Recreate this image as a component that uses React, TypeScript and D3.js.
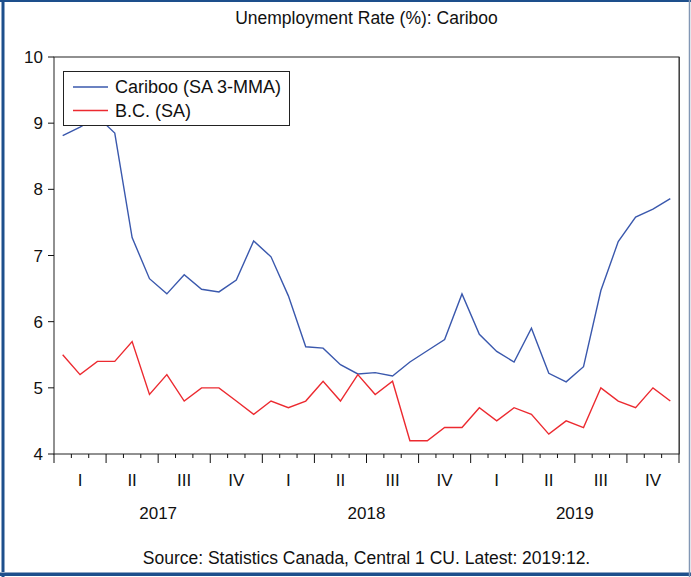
import React from "react";
import * as d3 from "d3";

const months: string[] = d3.range(36).map((i) => `${2017 + Math.floor(i / 12)}-${String((i % 12) + 1).padStart(2, "0")}`);
const cariboo: number[] = [
  8.81, 8.94, 9.1, 8.85, 7.27, 6.65, 6.42, 6.71, 6.49, 6.45, 6.63, 7.22,
  6.98, 6.39, 5.62, 5.6, 5.35, 5.21, 5.23, 5.18, 5.39, 5.56, 5.73, 6.42,
  5.81, 5.55, 5.39, 5.9, 5.22, 5.09, 5.32, 6.47, 7.21, 7.58, 7.7, 7.86,
];
const bc: number[] = [
  5.5, 5.2, 5.4, 5.4, 5.7, 4.9, 5.2, 4.8, 5.0, 5.0, 4.8, 4.6,
  4.8, 4.7, 4.8, 5.1, 4.8, 5.2, 4.9, 5.1, 4.2, 4.2, 4.4, 4.4,
  4.7, 4.5, 4.7, 4.6, 4.3, 4.5, 4.4, 5.0, 4.8, 4.7, 5.0, 4.8,
];
const yTicks: number[] = [4, 5, 6, 7, 8, 9, 10];
const quarterLabels: string[] = ["I", "II", "III", "IV"];
const years: string[] = ["2017", "2018", "2019"];
const seriesNames: string[] = ["Cariboo (SA 3-MMA)", "B.C. (SA)"];
const seriesColors: string[] = ["#3a58ad", "#ec2a30"];
const title = "Unemployment Rate (%): Cariboo";
const source = "Source: Statistics Canada, Central 1 CU. Latest: 2019:12.";

const W = 691;
const H = 577;
const L = 54, R = 679, T = 57, B = 454;
const FONT = "'Liberation Sans', Arial, sans-serif";

export default function App() {
  const x = d3.scaleLinear().domain([0, months.length]).range([L, R]);
  const y = d3.scaleLinear().domain([4, 10]).range([B, T]);
  const line = d3
    .line<number>()
    .x((_, i) => x(i + 0.5))
    .y((d) => y(d));
  const series = [cariboo, bc];
  const cx = (L + R) / 2;
  const nQuarters = months.length / 3;

  return (
    <svg
      width={W}
      height={H}
      style={{ position: "absolute", left: 0, top: 0, background: "#fff" }}
      fontFamily={FONT}
    >
      <rect x={0} y={0} width={W} height={H} fill="#fff" />
      {/* outer frame */}
      <line x1={0} x2={W} y1={1} y2={1} stroke="#1d4f8c" strokeWidth={2} />
      <line x1={3} x2={3} y1={0} y2={H} stroke="#1d4f8c" strokeWidth={3} />
      <line x1={0} x2={W} y1={574.5} y2={574.5} stroke="#1d4f8c" strokeWidth={3} />
      <line x1={0} x2={W} y1={572.5} y2={572.5} stroke="#8fa6c4" strokeWidth={1} />
      <line x1={689.5} x2={689.5} y1={0} y2={H} stroke="#8297b5" strokeWidth={1.5} />

      <text x={cx} y={24} textAnchor="middle" fontSize={17.5} fill="#111">
        {title}
      </text>

      {/* plot frame */}
      <rect x={L} y={T} width={R - L} height={B - T} fill="none" stroke="#222" strokeWidth={1} />
      <line x1={R + 0.5} x2={R + 0.5} y1={T} y2={B} stroke="#444" strokeWidth={1} />

      {/* y axis */}
      {yTicks.map((t) => (
        <g key={t}>
          <line x1={L - 6} x2={L} y1={y(t)} y2={y(t)} stroke="#111" />
          <text x={L - 11} y={y(t)} dy="0.36em" textAnchor="end" fontSize={17} fill="#111">
            {t}
          </text>
        </g>
      ))}

      {/* x axis ticks */}
      {d3.range(months.length + 1).map((i) => (
        <line
          key={i}
          x1={x(i)}
          x2={x(i)}
          y1={B}
          y2={i % 3 === 0 ? B + 9 : B + 4}
          stroke="#111"
        />
      ))}
      {d3.range(nQuarters).map((q) => (
        <text key={q} x={x(q * 3 + 1.5)} y={486} textAnchor="middle" fontSize={17} fill="#111">
          {quarterLabels[q % 4]}
        </text>
      ))}
      {years.map((yr, k) => (
        <text key={yr} x={x(k * 12 + 6)} y={519} textAnchor="middle" fontSize={17} fill="#111">
          {yr}
        </text>
      ))}

      {/* series */}
      {series.map((s, k) => (
        <path key={k} d={line(s) || ""} fill="none" stroke={seriesColors[k]} strokeWidth={1.4} />
      ))}

      {/* legend */}
      <rect x={63.5} y={71.5} width={226} height={54} fill="#fff" stroke="#222" strokeWidth={1} />
      {seriesNames.map((n, k) => (
        <g key={n}>
          <line x1={73} x2={108} y1={87 + k * 23.5} y2={87 + k * 23.5} stroke={seriesColors[k]} strokeWidth={1.4} />
          <text x={115} y={87 + k * 23.5} dy="0.36em" fontSize={18} fill="#111">
            {n}
          </text>
        </g>
      ))}

      <text x={cx} y={564} textAnchor="middle" fontSize={17.5} fill="#111">
        {source}
      </text>
    </svg>
  );
}
